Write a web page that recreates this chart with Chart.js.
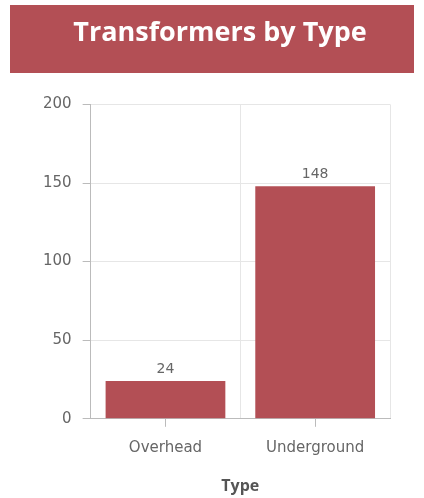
<!DOCTYPE html>
<html>
<head>
<meta charset="utf-8">
<script src="https://cdn.jsdelivr.net/npm/chart.js@4.4.0/dist/chart.umd.min.js"></script>
<style>
  html, body { margin: 0; padding: 0; background: #fff; }
  #wrap { width: 424px; height: 498px; }
</style>
</head>
<body>
<div id="wrap"><canvas id="myChart"></canvas></div>
<script>
const categories = ['Overhead', 'Underground'];
const counts = [24, 148];
const yTicks = [0, 50, 100, 150, 200];

const barColor = '#b34f55';

// red header band behind the title, title nudged a little right like the original
const headerBand = {
	id: 'headerBand',
	afterLayout(chart) {
		chart.titleBlock.left += 9;
		chart.titleBlock.right += 9;
	},
	beforeDraw(chart) {
		const c = chart.ctx;
		c.save();
		c.fillStyle = barColor;
		c.fillRect(10, 5, 404, 68);
		c.restore();
	}
};

// small tick marks at category centres + value labels over bars
const extras = {
	id: 'extras',
	afterDatasetsDraw(chart) {
		const c = chart.ctx;
		const x = chart.scales.x;
		const bottom = chart.chartArea.bottom;
		c.save();
		c.strokeStyle = '#bbbbbb';
		c.lineWidth = 1;
		x.ticks.forEach((t, i) => {
			const px = Math.round(x.getPixelForTick(i)) + 0.5;
			c.beginPath();
			c.moveTo(px, bottom);
			c.lineTo(px, bottom + 8);
			c.stroke();
		});
		c.fillStyle = '#666';
		c.font = '14px "DejaVu Sans"';
		c.textAlign = 'center';
		c.textBaseline = 'bottom';
		chart.getDatasetMeta(0).data.forEach((bar, i) => {
			c.fillText(counts[i], bar.x, bar.y - 5);
		});
		c.restore();
	}
};

Chart.defaults.font.family = '"DejaVu Sans", sans-serif';
Chart.defaults.color = '#666';

new Chart(document.getElementById('myChart'), {
	type: 'bar',
	data: {
		labels: categories,
		datasets: [{
			data: counts,
			backgroundColor: barColor,
			barPercentage: 0.8,
			categoryPercentage: 1.0
		}]
	},
	options: {
		responsive: true,
		maintainAspectRatio: false,
		animation: false,
		layout: { padding: { left: 32, right: 34, top: 5, bottom: 2 } },
		plugins: {
			legend: { display: false },
			tooltip: { enabled: false },
			title: {
				display: true,
				text: 'Transformers by Type',
				color: '#fff',
				font: { size: 27, weight: 'bold', family: '"Open Sans", sans-serif' },
				padding: { top: 12, bottom: 55 }
			}
		},
		scales: {
			x: {
				grid: { offset: true, color: '#e6e6e6', drawTicks: false },
				border: { color: '#bbbbbb' },
				ticks: { padding: 20, font: { size: 15 }, color: '#666' },
				title: {
					display: true,
					text: 'Type',
					color: '#555',
					font: { size: 16, weight: 'bold', family: '"Open Sans", sans-serif' },
					padding: { top: 0, bottom: 0 }
				}
			},
			y: {
				min: 0,
				max: 200,
				afterBuildTicks(scale) {
					scale.ticks = yTicks.map(v => ({ value: v }));
				},
				grid: { color: '#e6e6e6', tickLength: 8, tickColor: '#bbbbbb' },
				border: { color: '#bbbbbb' },
				ticks: { padding: 11, font: { size: 15 }, color: '#666' }
			}
		}
	},
	plugins: [headerBand, extras]
});
</script>
</body>
</html>
